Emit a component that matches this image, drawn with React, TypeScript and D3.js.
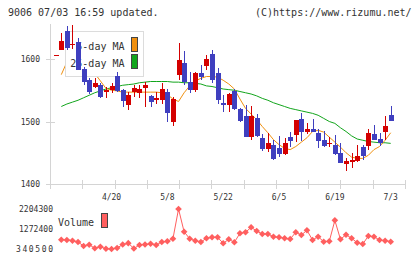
import * as d3 from "d3";

// trading days shown (first one only has a candle, no volume point)
const dates = [
  "4/6", "4/7", "4/8", "4/9", "4/10", "4/13", "4/14", "4/15", "4/16", "4/17",
  "4/20", "4/21", "4/22", "4/23", "4/24", "4/27", "4/28", "4/30", "5/1", "5/7",
  "5/8", "5/11", "5/12", "5/13", "5/14", "5/15", "5/18", "5/19", "5/20", "5/21",
  "5/22", "5/25", "5/26", "5/27", "5/28", "5/29", "6/1", "6/2", "6/3", "6/4",
  "6/5", "6/8", "6/9", "6/10", "6/11", "6/12", "6/15", "6/16", "6/17", "6/18",
  "6/19", "6/22", "6/23", "6/24", "6/25", "6/26", "6/29", "6/30", "7/1", "7/2",
  "7/3",
];
const dateTicks = ["4/20", "5/8", "5/22", "6/5", "6/19", "7/3"];

const opens = [
  1606,
  1615, 1645, 1622, 1627, 1584, 1567, 1555, 1559, 1547, 1550,
  1573, 1550, 1527, 1547, 1545, 1554, 1541, 1535, 1535, 1547,
  1500, 1575, 1594, 1564, 1551, 1578, 1589, 1608, 1578, 1530,
  1526, 1549, 1520, 1509, 1475, 1506, 1474, 1456, 1462, 1458,
  1448, 1476, 1478, 1504, 1484, 1488, 1482, 1470, 1464, 1462,
  1449, 1432, 1435, 1437, 1459, 1460, 1480, 1472, 1484, 1510,
];
const closes = [
  1606,
  1629, 1617, 1624, 1583, 1564, 1547, 1562, 1540, 1551, 1557,
  1549, 1533, 1543, 1554, 1552, 1558, 1531, 1537, 1552, 1513,
  1536, 1599, 1563, 1551, 1578, 1571, 1600, 1567, 1535, 1526,
  1544, 1520, 1501, 1475, 1509, 1477, 1456, 1466, 1440, 1448,
  1465, 1469, 1502, 1484, 1488, 1484, 1469, 1461, 1466, 1448,
  1434, 1437, 1438, 1445, 1445, 1482, 1470, 1465, 1493, 1501,
];
const highs = [
  1606,
  1642, 1653, 1655, 1633, 1588, 1569, 1569, 1561, 1555, 1562,
  1579, 1552, 1547, 1558, 1558, 1563, 1542, 1547, 1562, 1552,
  1539, 1626, 1613, 1580, 1579, 1590, 1607, 1615, 1585, 1542,
  1545, 1552, 1522, 1526, 1525, 1512, 1480, 1482, 1470, 1477,
  1474, 1484, 1503, 1514, 1498, 1504, 1488, 1485, 1476, 1478,
  1465, 1442, 1450, 1462, 1462, 1488, 1494, 1481, 1508, 1525,
];
const lows = [
  1606,
  1614, 1615, 1616, 1582, 1559, 1544, 1554, 1538, 1538, 1546,
  1548, 1523, 1519, 1539, 1538, 1523, 1523, 1528, 1528, 1500,
  1493, 1567, 1558, 1545, 1548, 1566, 1583, 1562, 1528, 1515,
  1516, 1518, 1499, 1475, 1471, 1475, 1453, 1451, 1439, 1443,
  1446, 1459, 1468, 1469, 1480, 1483, 1457, 1459, 1459, 1447,
  1434, 1421, 1425, 1436, 1438, 1455, 1470, 1461, 1470, 1501,
];
const ma5 = [
  null,
  1575, 1595, 1607, 1610, 1603, 1590, 1577, 1565, 1553, 1550,
  1549, 1547, 1547, 1547, 1547, 1547, 1547, 1547, 1546, 1543,
  1536, 1532, 1546, 1557, 1565, 1569, 1572, 1572, 1571, 1566,
  1560, 1552, 1536, 1521, 1512, 1503, 1492, 1482, 1471, 1463,
  1457, 1455, 1460, 1467, 1474, 1484, 1486, 1483, 1475, 1467,
  1459, 1450, 1443, 1441, 1441, 1446, 1455, 1460, 1470, 1482,
];
const ma25 = [
  null,
  1524, 1528, 1531, 1534, 1538, 1542, 1546, 1549, 1552, 1554,
  1556, 1558, 1559, 1560, 1562, 1563, 1564, 1564, 1564, 1564,
  1563, 1563, 1562, 1562, 1561, 1560, 1557, 1556, 1554, 1552,
  1551, 1550, 1548, 1546, 1544, 1541, 1537, 1534, 1530, 1527,
  1524, 1521, 1519, 1517, 1515, 1513, 1510, 1505, 1500, 1497,
  1490, 1484, 1477, 1472, 1470, 1468, 1467, 1466, 1466, 1465,
];
const volumes = [
  null,
  773800, 759900, 727200, 666700, 480300, 540900, 373100, 447700, 352000, 340500,
  387100, 550200, 613000, 363800, 526900, 550200, 587500, 526900, 666700, 703900,
  820400, 2204300, 1141900, 820400, 727200, 666700, 839100, 885700, 885700, 606100,
  792500, 652700, 1072000, 1118600, 1351600, 1179200, 1039400, 1039400, 913600, 885700,
  839100, 806400, 1118600, 992800, 1211800, 759900, 913600, 680600, 699300, 1675000,
  792500, 1006800, 839100, 634000, 573500, 946200, 913600, 759900, 727200, 680600,
];
const priceTicks = [1400, 1500, 1600];

const FONT = "'DejaVu Sans Mono', monospace";
const TEXT = "#333";
const AXIS = "#d4d4d4";
const UP = "#d40000";
const DOWN = "#3f3fbf";
const MA5_COLOR = "#f0900f";
const MA25_COLOR = "#12a51c";
const VOL_COLOR = "#ff5f5f";

export default function App() {
  const x = d3.scalePoint<string>().domain(dates).range([55.7, 390.7]);
  const y = d3.scaleLinear().domain([1400, 1600]).range([184, 59]);
  const [vMin, vMax] = d3.extent(volumes.filter((v): v is number => v != null)) as [number, number];
  const vy = d3.scaleLinear().domain([vMin, vMax]).range([249, 209]);
  const grid = d3.scaleLinear().domain([0, 11]).range([50, 405]);

  const px = (d: string) => Math.round(x(d) ?? 0);

  const maLine = (vals: (number | null)[]) =>
    d3
      .line<number | null>()
      .defined((d) => d != null)
      .x((_, i) => x(dates[i]) ?? 0)
      .y((d) => y(d as number))(vals) ?? "";

  const volPts = volumes
    .map((v, i) => ({ v, d: dates[i] }))
    .filter((p): p is { v: number; d: string } => p.v != null);
  const volPath =
    d3
      .line<{ v: number; d: string }>()
      .x((p) => x(p.d) ?? 0)
      .y((p) => vy(p.v))(volPts) ?? "";
  const diamond = d3.symbol().type(d3.symbolSquare).size(22)() ?? "";

  const volLabels = [vMax, (vMin + vMax) / 2, vMin];

  return (
    <svg
      width={420}
      height={259}
      style={{ position: "absolute", left: 0, top: 0, background: "#fff" }}
      fontFamily={FONT}
    >
      <text x={8} y={16} fontSize={10} fill={TEXT}>9006 07/03 16:59 updated.</text>
      <text x={255} y={16} fontSize={10} fill={TEXT}>(C)https://www.rizumu.net/</text>

      {/* axes */}
      <g stroke={AXIS} strokeWidth={1} shapeRendering="crispEdges">
        <line x1={50.5} x2={50.5} y1={24} y2={189} />
        <line x1={46} x2={406} y1={184.5} y2={184.5} />
        {priceTicks.map((t) => (
          <line key={t} x1={46} x2={55} y1={Math.round(y(t)) + 0.5} y2={Math.round(y(t)) + 0.5} />
        ))}
        {d3.range(12).map((k) => (
          <line key={k} x1={Math.round(grid(k)) + 0.5} x2={Math.round(grid(k)) + 0.5} y1={180} y2={189} />
        ))}
      </g>
      {priceTicks.map((t) => (
        <text key={t} x={40} y={y(t) + 3} fontSize={8} fill={TEXT} textAnchor="end">{t}</text>
      ))}
      {dateTicks.map((d) => (
        <text key={d} x={x(d)} y={200} fontSize={8} fill={TEXT} textAnchor="middle">{d}</text>
      ))}

      {/* moving averages */}
      <path d={maLine(ma25)} fill="none" stroke={MA25_COLOR} strokeWidth={1} />
      <path d={maLine(ma5)} fill="none" stroke={MA5_COLOR} strokeWidth={1} />

      {/* legend */}
      <rect x={65.5} y={31.5} width={78} height={45} fill="#fff" stroke="#dcdcdc" shapeRendering="crispEdges" />
      <text x={124.5} y={50} fontSize={10} fill={TEXT} textAnchor="end">5-day MA</text>
      <text x={124.5} y={67} fontSize={10} fill={TEXT} textAnchor="end">25-day MA</text>
      <rect x={131.5} y={37.5} width={6} height={14} fill={MA5_COLOR} stroke="#444" shapeRendering="crispEdges" />
      <rect x={131.5} y={54.5} width={6} height={14} fill={MA25_COLOR} stroke="#444" shapeRendering="crispEdges" />

      {/* candles */}
      <g shapeRendering="crispEdges">
        {dates.map((d, i) => {
          const o = opens[i];
          const c = closes[i];
          const col = c >= o ? UP : DOWN;
          const top = Math.round(y(Math.max(o, c)));
          const bot = Math.round(y(Math.min(o, c)));
          const cx = px(d);
          return (
            <g key={d}>
              <line x1={cx + 0.5} x2={cx + 0.5} y1={Math.round(y(highs[i]))} y2={Math.round(y(lows[i]))} stroke={col} />
              <rect x={cx - 2} y={top} width={5} height={Math.max(1, bot - top)} fill={col} />
            </g>
          );
        })}
      </g>

      {/* volume */}
      {volLabels.map((v) => (
        <text
          key={v}
          x={53}
          y={vy(v) + 3}
          fontSize={8}
          fill={TEXT}
          textAnchor="end"
          textLength={String(v).length === 6 ? 37 : 34}
          lengthAdjust="spacing"
        >
          {v}
        </text>
      ))}
      <text x={58} y={226} fontSize={10} fill={TEXT}>Volume</text>
      <rect x={101.5} y={213.5} width={6} height={14} fill={VOL_COLOR} stroke="#444" shapeRendering="crispEdges" />
      <path d={volPath} fill="none" stroke={VOL_COLOR} strokeWidth={1} />
      {volPts.map((p) => (
        <path
          key={p.d}
          d={diamond}
          transform={`translate(${x(p.d)},${vy(p.v)}) rotate(45)`}
          fill={VOL_COLOR}
        />
      ))}
    </svg>
  );
}
